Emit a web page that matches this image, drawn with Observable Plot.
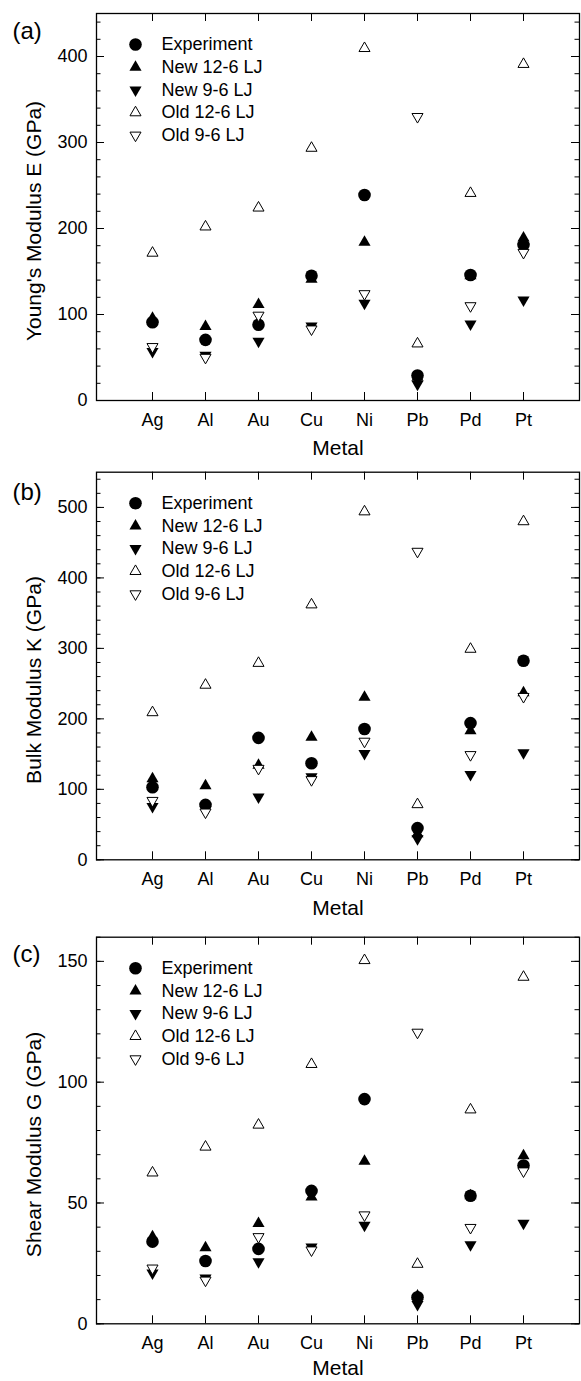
<!DOCTYPE html>
<html>
<head>
<meta charset="utf-8">
<script src="https://cdn.jsdelivr.net/npm/d3@7"></script>
<script src="https://cdn.jsdelivr.net/npm/@observablehq/plot@0.6"></script>
<style>
  body { margin: 0; background: #fff; }
  svg { display: block; }
</style>
</head>
<body>
<div id="chart"></div>
<script>
// ---- data ----
const metals = ["Ag", "Al", "Au", "Cu", "Ni", "Pb", "Pd", "Pt"];
const seriesNames = ["Experiment", "New 12-6 LJ", "New 9-6 LJ", "Old 12-6 LJ", "Old 9-6 LJ"];

// (a) Young's modulus E (GPa)
const youngExperiment = [91, 70.5, 88, 145, 239, 29, 146, 181];
const youngNew126     = [95.5, 86, 111.5, 141, 184, 27, 145, 189];
const youngNew96      = [57, 52.5, 69, 86.5, 113, 19, 89, 117];
const youngOld126     = [171.5, 202, 224, 293.5, 409.5, 66, 241, 391];
const youngOld96      = [62.5, 50, 99, 83, 124, 330, 110, 172];

// (b) Bulk modulus K (GPa)
const bulkExperiment = [103, 78, 173, 137, 185.5, 45, 194, 282.5];
const bulkNew126     = [115, 105, 134, 174, 230.5, 37, 183, 237];
const bulkNew96      = [75.5, 71, 89, 118, 151, 30, 121, 152];
const bulkOld126     = [209, 248, 279, 362, 494, 78.5, 299, 480];
const bulkOld96      = [84, 67.5, 129.5, 113.5, 168, 437.5, 149, 231.5];

// (c) Shear modulus G (GPa)
const shearExperiment = [34, 26, 31, 55, 93, 11, 53, 65.5];
const shearNew126     = [36, 31.5, 41.5, 52.5, 67.3, 11.5, 53, 69.5];
const shearNew96      = [21, 19, 25.7, 31.8, 40.8, 8, 32.7, 41.6];
const shearOld126     = [62.5, 73.2, 82.3, 107.4, 150.4, 24.7, 88.6, 143.5];
const shearOld96      = [23, 18, 36, 30.5, 45, 120.6, 39.8, 63.2];

const youngMajor = [0, 100, 200, 300, 400];
const youngMinor = d3.range(0, 451, 20);
const bulkMajor = [0, 100, 200, 300, 400, 500];
const bulkMinor = d3.range(0, 551, 20);
const shearMajor = [0, 50, 100, 150];
const shearMinor = d3.range(0, 161, 10);

// ---- styles ----
const FONT = "'Liberation Sans', Arial, Helvetica, sans-serif";
const styles = [
  {symbol: "circle",   r: 6.3, fill: "black", stroke: "none",  strokeWidth: 0, rotate: 0},
  {symbol: "triangle", r: 4.5, fill: "black", stroke: "none",  strokeWidth: 0, rotate: 0},
  {symbol: "triangle", r: 4.5, fill: "black", stroke: "none",  strokeWidth: 0, rotate: 180},
  {symbol: "triangle", r: 4.1, fill: "white", stroke: "black", strokeWidth: 1, rotate: 0},
  {symbol: "triangle", r: 4.1, fill: "white", stroke: "black", strokeWidth: 1, rotate: 180}
];
const WIDTH = 581, ML = 96, MR = 2;
const INNER_W = WIDTH - ML - MR;
const MAJOR_LEN = 8, MINOR_LEN = 4.5;

function makePanel(cfg) {
  const rows = [];
  cfg.series.forEach((vals, si) => vals.forEach((v, mi) => rows.push({metal: metals[mi], value: v, si})));
  const marks = [];
  // inward ticks on all four sides
  const tk = {stroke: "black", strokeWidth: 1};
  marks.push(Plot.tickY(cfg.minor, {y: d => d, insetRight: INNER_W - MINOR_LEN, ...tk}));
  marks.push(Plot.tickY(cfg.minor, {y: d => d, insetLeft: INNER_W - MINOR_LEN, ...tk}));
  marks.push(Plot.tickY(cfg.major, {y: d => d, insetRight: INNER_W - MAJOR_LEN, ...tk}));
  marks.push(Plot.tickY(cfg.major, {y: d => d, insetLeft: INNER_W - MAJOR_LEN, ...tk}));
  marks.push(Plot.tickX(metals, {x: d => d, insetTop: cfg.inner - MAJOR_LEN, ...tk}));
  marks.push(Plot.tickX(metals, {x: d => d, insetBottom: cfg.inner - MAJOR_LEN, ...tk}));
  // tick labels
  marks.push(Plot.axisY(cfg.major, {anchor: "left", tickSize: 0, tickPadding: 9, fontSize: 18, label: null}));
  marks.push(Plot.axisX(metals, {anchor: "bottom", tickSize: 0, tickPadding: 12.5, fontSize: 18, label: null}));
  // data
  styles.forEach((st, si) => {
    marks.push(Plot.dot(rows.filter(d => d.si === si), {
      x: "metal", y: "value", symbol: st.symbol, r: st.r, fill: st.fill,
      stroke: st.stroke, strokeWidth: st.strokeWidth, rotate: st.rotate
    }));
  });
  // legend
  styles.forEach((st, si) => {
    const dy = 31 + si * 22.7;
    marks.push(Plot.dot([seriesNames[si]], {
      frameAnchor: "top-left", dx: 39, dy, symbol: st.symbol, r: st.r, fill: st.fill,
      stroke: st.stroke, strokeWidth: st.strokeWidth, rotate: st.rotate
    }));
    marks.push(Plot.text([seriesNames[si]], {
      frameAnchor: "top-left", dx: 65, dy, text: d => d, textAnchor: "start", lineAnchor: "middle",
      fontSize: 18, fill: "black"
    }));
  });
  marks.push(Plot.frame({stroke: "black", strokeWidth: 1.3}));
  // titles
  marks.push(Plot.text([cfg.tag], {frameAnchor: "top-left", dx: -84, dy: cfg.tagDy, text: d => d,
    textAnchor: "start", lineAnchor: "middle", fontSize: 24, fill: "black"}));
  marks.push(Plot.text([cfg.yLabel], {frameAnchor: "left", dx: -62, dy: 14, rotate: -90, text: d => d,
    textAnchor: "middle", lineAnchor: "middle", fontSize: 21, fill: "black"}));
  marks.push(Plot.text(["Metal"], {frameAnchor: "bottom", dy: cfg.xTitleDy, text: d => d,
    textAnchor: "middle", lineAnchor: "middle", fontSize: 21, fill: "black"}));

  return Plot.plot({
    width: WIDTH,
    height: cfg.marginTop + cfg.inner + cfg.marginBottom,
    marginTop: cfg.marginTop,
    marginBottom: cfg.marginBottom,
    marginLeft: ML,
    marginRight: MR,
    x: {type: "point", domain: metals, padding: 1},
    y: {domain: cfg.domain},
    style: {fontFamily: FONT, color: "black", background: "white", overflow: "visible"},
    marks
  });
}

const chart = document.getElementById("chart");
chart.append(makePanel({
  tag: "(a)", tagDy: 17.6, yLabel: "Young's Modulus E (GPa)", domain: [0, 450],
  major: youngMajor, minor: youngMinor,
  series: [youngExperiment, youngNew126, youngNew96, youngOld126, youngOld96],
  marginTop: 13, inner: 387, marginBottom: 60, xTitleDy: 48
}));
chart.append(makePanel({
  tag: "(b)", tagDy: 20, yLabel: "Bulk Modulus K (GPa)", domain: [0, 550],
  major: bulkMajor, minor: bulkMinor,
  series: [bulkExperiment, bulkNew126, bulkNew96, bulkOld126, bulkOld96],
  marginTop: 11.7, inner: 387.6, marginBottom: 60.7, xTitleDy: 48
}));
chart.append(makePanel({
  tag: "(c)", tagDy: 17.6, yLabel: "Shear Modulus G (GPa)", domain: [0, 160],
  major: shearMajor, minor: shearMinor,
  series: [shearExperiment, shearNew126, shearNew96, shearOld126, shearOld96],
  marginTop: 16.7, inner: 386.6, marginBottom: 57.7, xTitleDy: 44.5
}));
</script>
</body>
</html>
